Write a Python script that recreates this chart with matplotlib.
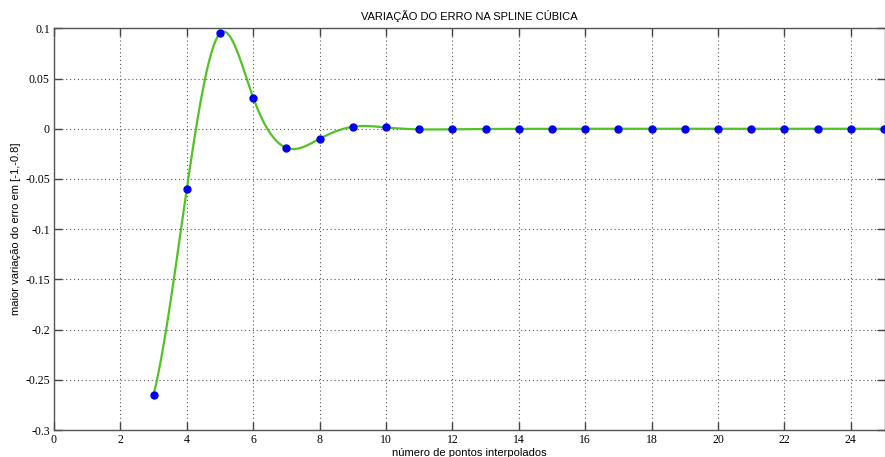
import numpy as np
import matplotlib
matplotlib.use('Agg')
import matplotlib.pyplot as plt

# maior variação do erro para cada número de pontos interpolados
n_pontos = [3, 4, 5, 6, 7, 8, 9, 10, 11, 12, 13, 14, 15, 16, 17, 18, 19, 20, 21, 22, 23, 24, 25]
variacao = [-0.265, -0.060, 0.095, 0.031, -0.019, -0.010, 0.002, 0.0013, -0.0006, -0.0005,
            -0.0002, -0.0001, 0.0, 0.0, 0.0, 0.0, 0.0, 0.0, 0.0, 0.0, 0.0, 0.0, 0.0]
xticks = list(range(0, 26, 2))
yticks = [-0.3, -0.25, -0.2, -0.15, -0.1, -0.05, 0, 0.05, 0.1]
ytick_labels = ['-0.3', '-0.25', '-0.2', '-0.15', '-0.1', '-0.05', '0', '0.05', '0.1']


def spline_not_a_knot(x, y, xs):
    # cubic spline with not-a-knot ends (same as MATLAB spline)
    x = np.asarray(x, float)
    y = np.asarray(y, float)
    n = len(x)
    h = np.diff(x)
    A = np.zeros((n, n))
    b = np.zeros(n)
    for i in range(1, n - 1):
        A[i, i - 1] = h[i - 1]
        A[i, i] = 2 * (h[i - 1] + h[i])
        A[i, i + 1] = h[i]
        b[i] = 6 * ((y[i + 1] - y[i]) / h[i] - (y[i] - y[i - 1]) / h[i - 1])
    A[0, 0], A[0, 1], A[0, 2] = h[1], -(h[0] + h[1]), h[0]
    A[-1, -3], A[-1, -2], A[-1, -1] = h[-1], -(h[-2] + h[-1]), h[-2]
    M = np.linalg.solve(A, b)
    k = np.clip(np.searchsorted(x, xs) - 1, 0, n - 2)
    hk = h[k]
    t0 = x[k + 1] - xs
    t1 = xs - x[k]
    return (M[k] * t0 ** 3 / (6 * hk) + M[k + 1] * t1 ** 3 / (6 * hk)
            + (y[k] / hk - M[k] * hk / 6) * t0 + (y[k + 1] / hk - M[k + 1] * hk / 6) * t1)


xs = np.linspace(n_pontos[0], n_pontos[-1], 2000)
ys = spline_not_a_knot(n_pontos, variacao, xs)

fig = plt.figure(figsize=(8.85, 4.57), dpi=100)
ax = fig.add_axes([0.061, 0.059, 0.939, 0.879])

ax.plot(xs, ys, color='#52c224', linewidth=1.6, zorder=3)
ax.plot(n_pontos, variacao, 'o', color='#0000ee', markersize=5, zorder=4, clip_on=False)

ax.set_xticks(xticks)
ax.set_yticks(yticks)
ax.set_yticklabels(ytick_labels)
ax.set_xlim(0, 25.03)
ax.set_ylim(-0.3, 0.1)
ax.grid(True, linestyle=(0, (1, 2.5)), color='#555555', linewidth=0.8)
ax.tick_params(direction='in', length=6, width=1, color='#444444',
               top=True, right=True, labelsize=8.5, pad=3)
for lab in ax.get_xticklabels() + ax.get_yticklabels():
    lab.set_fontfamily('Liberation Serif')
for sp in ax.spines.values():
    sp.set_color('#555555')
    sp.set_linewidth(1.0)

ax.set_title('VARIAÇÃO DO ERRO NA SPLINE CÚBICA', fontsize=8, family='Liberation Sans', pad=6)
ax.set_xlabel('número de pontos interpolados', fontsize=8, family='Liberation Sans', labelpad=1)
ax.set_ylabel('maior variação do erro em [-1,-0.8]', fontsize=8, family='Liberation Sans', labelpad=3)

fig.savefig('out.png', dpi=100)
